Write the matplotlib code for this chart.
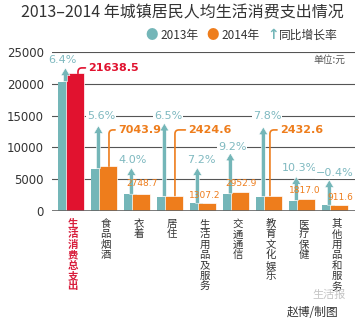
import matplotlib.pyplot as plt
import matplotlib.transforms as mtransforms
import numpy as np

plt.rcParams['font.family'] = ['Noto Sans CJK SC', 'DejaVu Sans']

# 数据
categories = ['生活消费总支出', '食品烟酒', '衣着', '居住', '生活用品及服务',
              '交通通信', '教育文化娱乐', '医疗保健', '其他用品和服务']
v2013 = [20336.9, 6670.4, 2643.0, 2276.6, 1219.4, 2704.1, 2256.6, 1647.3, 915.3]
v2014 = [21638.5, 7043.9, 2748.7, 2424.6, 1307.2, 2952.9, 2432.6, 1817.0, 911.6]
growth = ['6.4%', '5.6%', '4.0%', '6.5%', '7.2%', '9.2%', '7.8%', '10.3%', '−0.4%']
value_labels = ['21638.5', '7043.9', '2748.7', '2424.6', '1307.2',
                '2952.9', '2432.6', '1817.0', '911.6']

# 版式(位置)
arrow_tip = [22500, 13400, 6800, 13800, 6800, 9100, 13200, 5400, 4900]
growth_xy = [(-0.27, 23700), (-0.09, 15000), (-0.12, 8000), (-0.06, 15000), (-0.06, 8000),
             (-0.12, 10000), (-0.06, 15000), (-0.09, 6700), (0.0, 6000)]
# 带引线的大标签: 类别 -> (竖线x偏移, 文字x偏移, 文字y)
big_labels = {0: (0.21, 0.52, 22500), 1: (0.15, 0.42, 12750),
              3: (0.15, 0.55, 12750), 6: (0.03, 0.33, 12750)}
small_labels = {2: (0.15, 4400), 4: (0.06, 2500), 5: (0.15, 4400), 7: (0.08, 3300), 8: (0.15, 2200)}

teal = '#74b6b8'
orange = '#ee7d1c'
red = '#e1122f'
txt = '#333333'

fig = plt.figure(figsize=(3.64, 3.22), dpi=100)
ax = fig.add_axes([0.143, 0.3447, 0.832, 0.4938])

x = np.arange(len(categories))
ax.bar(x - 0.39, v2013, 0.39, align='edge', color=teal, zorder=2)
colors14 = [red] + [orange] * (len(categories) - 1)
ax.bar(x - 0.15, v2014, 0.54, align='edge', color=colors14, edgecolor='white',
       linewidth=0.5, zorder=3)

# 增长箭头
for i in range(len(categories)):
    ax.annotate('', xy=(x[i] - 0.17, arrow_tip[i]), xytext=(x[i] - 0.17, v2013[i]),
                arrowprops=dict(arrowstyle='simple,head_length=0.55,head_width=0.65,tail_width=0.28',
                                mutation_scale=10, fc=teal, ec='white', lw=0.4,
                                shrinkA=0, shrinkB=0), zorder=4)
    gx, gy = growth_xy[i]
    ax.text(x[i] + gx, gy, growth[i], color='#7fb9c0', fontsize=8, ha='center', va='center',
            family=['DejaVu Sans'], zorder=5,
            bbox=dict(boxstyle='square,pad=0.1', fc='white', ec='none'))

# 数值标签
for i, (lx, tx, ty) in big_labels.items():
    c = red if i == 0 else orange
    ax.annotate(value_labels[i], xy=(x[i] + lx, v2014[i]), xytext=(x[i] + tx, ty),
                color=c, fontsize=8, fontweight='bold', ha='left', va='center',
                family=['DejaVu Sans'], zorder=5,
                arrowprops=dict(arrowstyle='-', color=c, lw=1.2, shrinkA=0, shrinkB=0,
                                relpos=(0, 0.5),
                                connectionstyle='angle,angleA=0,angleB=90,rad=4'))
for i, (tx, ty) in small_labels.items():
    ax.text(x[i] + tx, ty, value_labels[i], color=orange, fontsize=6.5, ha='center',
            va='center', family=['Liberation Sans Narrow', 'DejaVu Sans'], zorder=5)

ax.set_xlim(-0.576, 8.606)
ax.set_ylim(0, 25000)
ax.set_yticks(np.arange(0, 25001, 5000))
ax.set_yticklabels([str(v) for v in range(0, 25001, 5000)], family=['DejaVu Sans'])
ax.tick_params(axis='y', length=0, pad=6, labelsize=8.5, colors=txt)
ax.set_xticks([])
ax.grid(axis='y', color='#555555', linewidth=0.8, zorder=1)
ax.set_axisbelow(True)
for s in ax.spines.values():
    s.set_visible(False)
ax.axhline(0, color='#666666', linewidth=1.2, zorder=6)

# 竖排类别名
trans = mtransforms.blended_transform_factory(ax.transData, ax.transAxes)
for i, name in enumerate(categories):
    c = '#d81e3c' if i == 0 else txt
    w = 'bold' if i == 0 else 'normal'
    ax.text(x[i] + 0.05, -0.05, '\n'.join(name), transform=trans, ha='center', va='top',
            fontsize=7.5, color=c, fontweight=w, linespacing=1.05)

# 标题和图例
fig.text(0.5, 0.96, '2013–2014 年城镇居民人均生活消费支出情况', ha='center', va='center',
         fontsize=11.5, color=txt)
fig.text(152 / 364, 0.891, '●', color=teal, fontsize=9, ha='center', va='center')
fig.text(160 / 364, 0.891, '2013年', color=txt, fontsize=8.5, ha='left', va='center')
fig.text(213 / 364, 0.891, '●', color=orange, fontsize=9, ha='center', va='center')
fig.text(221 / 364, 0.891, '2014年', color=txt, fontsize=8.5, ha='left', va='center')
fig.text(273 / 364, 0.891, '↑', color=teal, fontsize=10, fontweight='bold', ha='center',
         va='center', family=['DejaVu Sans'])
fig.text(279 / 364, 0.891, '同比增长率', color=txt, fontsize=8.5, ha='left', va='center')
fig.text(345 / 364, 0.814, '单位:元', color='#555555', fontsize=7, ha='right', va='center')

fig.text(0.95, 0.083, '生活报', color='#c4c4c4', fontsize=8, ha='right', va='center')
fig.text(0.93, 0.03, '赵博/制图', color=txt, fontsize=8.5, ha='right', va='center')

fig.savefig('out.png', dpi=100)
